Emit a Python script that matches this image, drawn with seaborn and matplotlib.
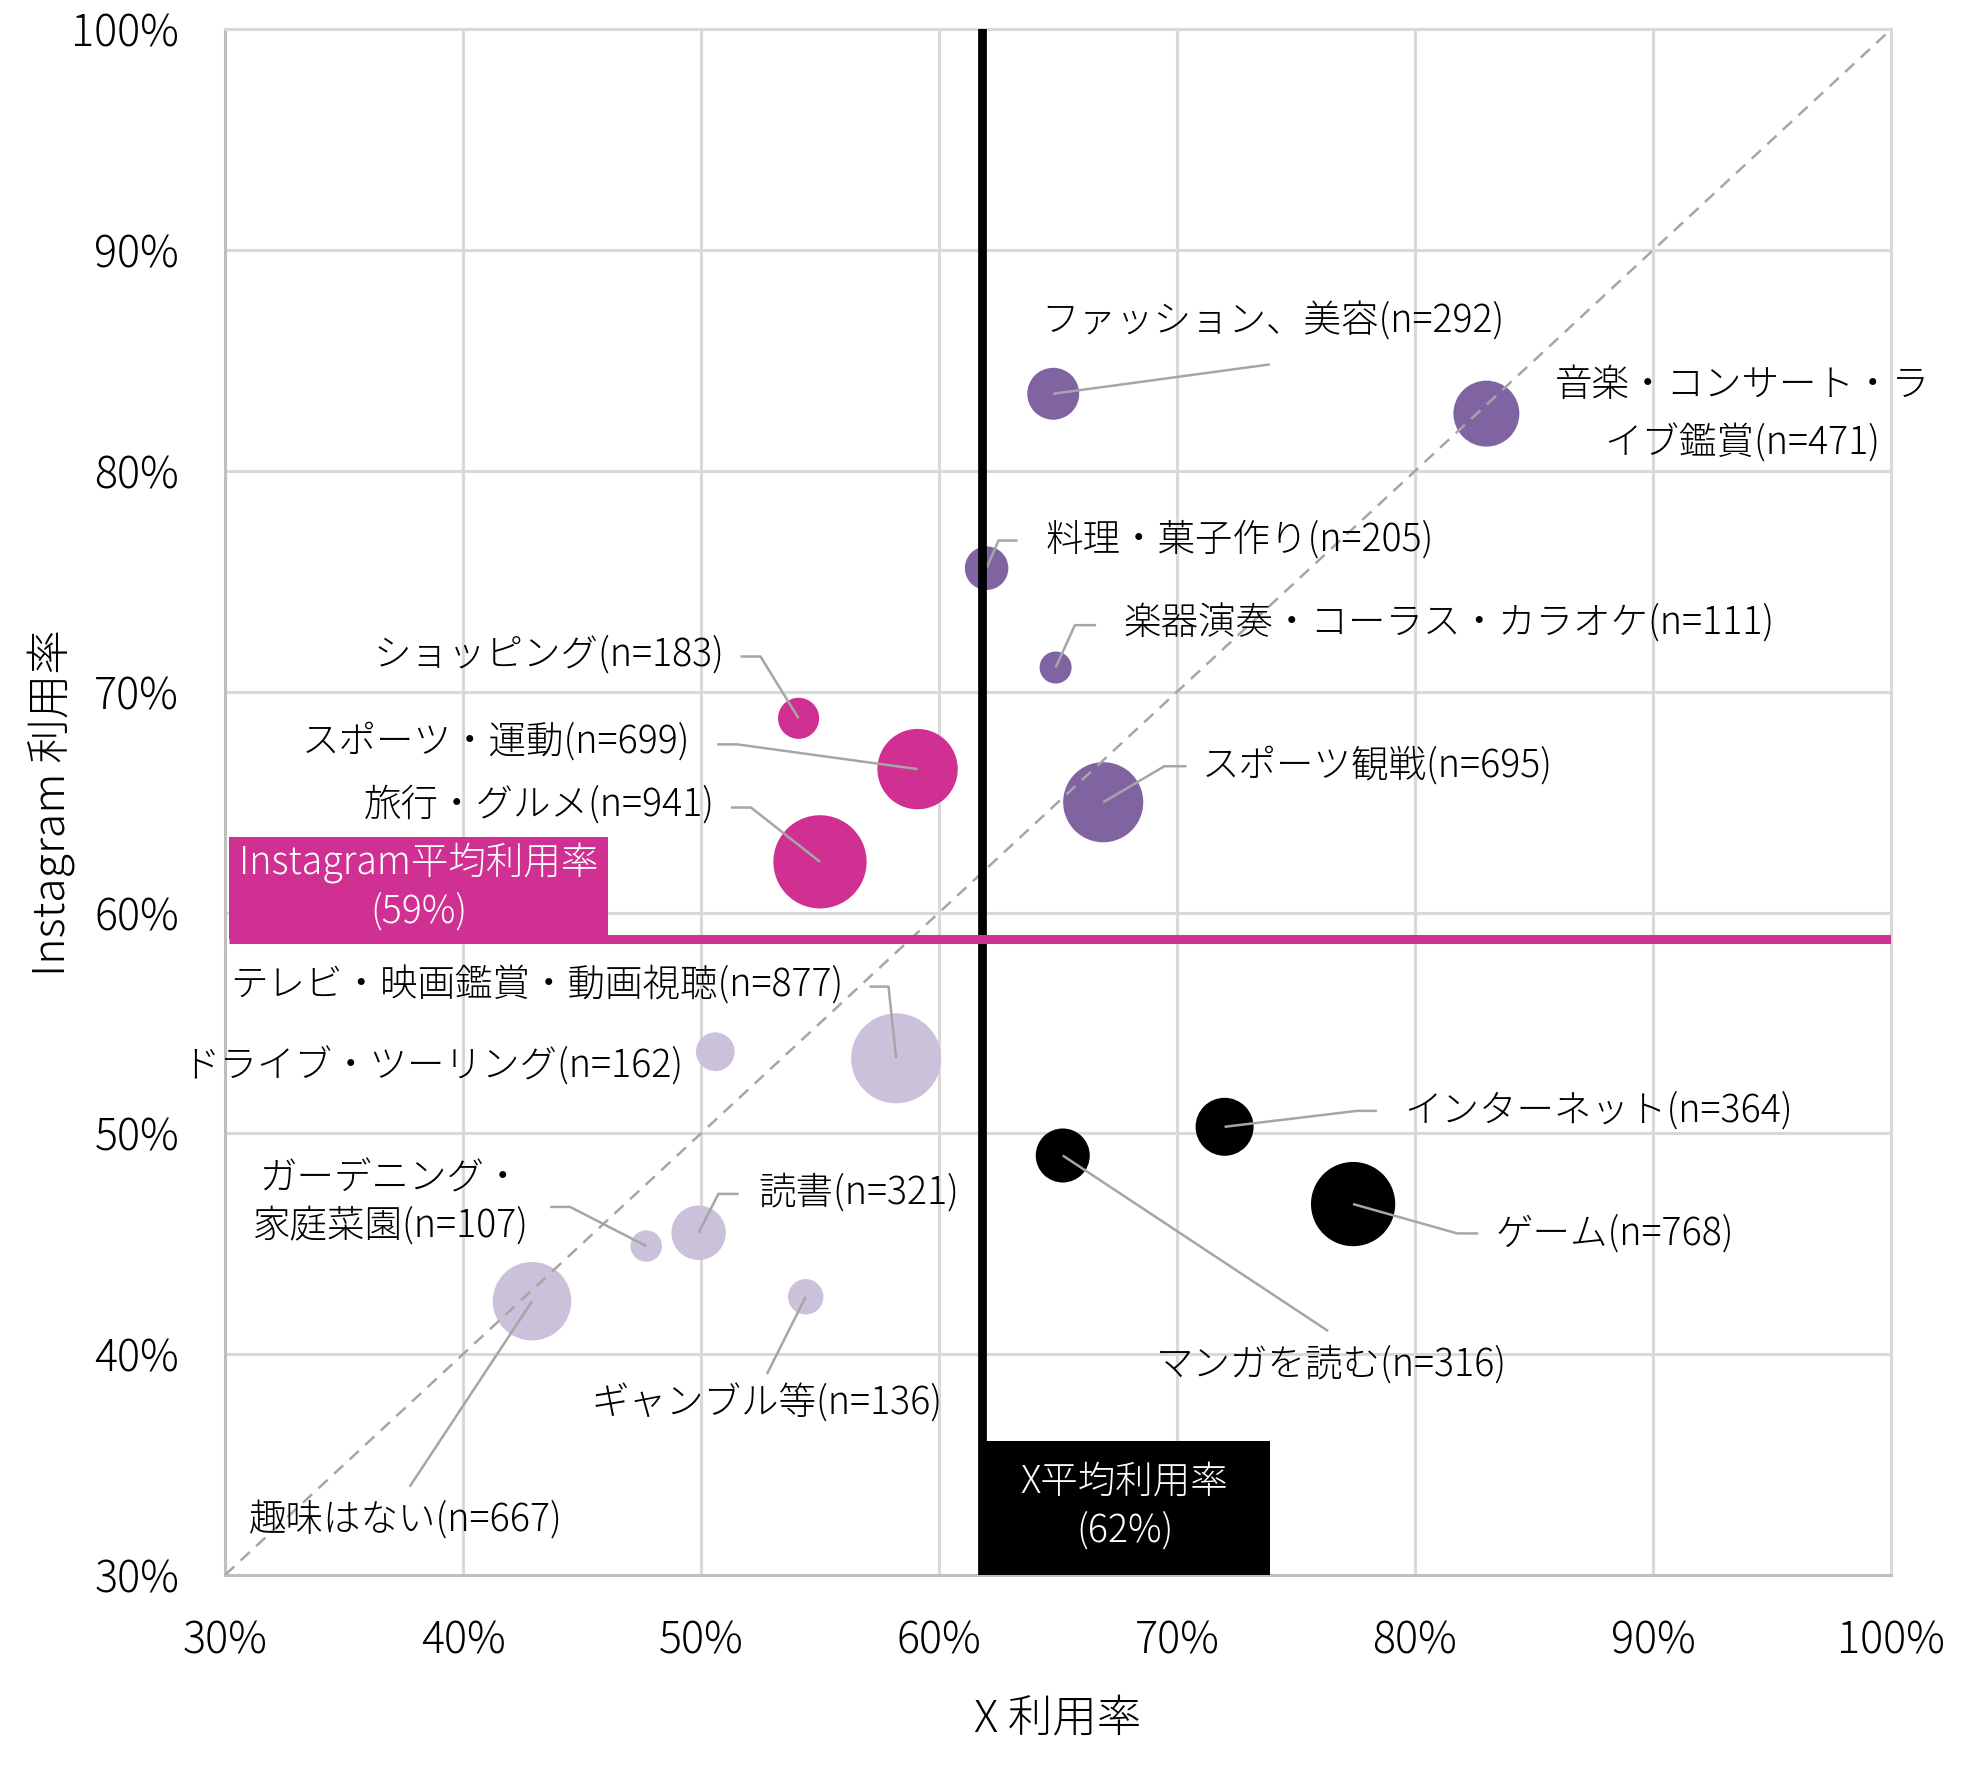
import numpy as np
import pandas as pd
import matplotlib
matplotlib.use("Agg")
import matplotlib.pyplot as plt
from matplotlib.patches import Rectangle
from matplotlib.ticker import FuncFormatter, MultipleLocator
import seaborn as sns

# ---------------- data ----------------
labels = [
    "ファッション、美容(n=292)",
    "音楽・コンサート・ラ\nイブ鑑賞(n=471)",
    "料理・菓子作り(n=205)",
    "楽器演奏・コーラス・カラオケ(n=111)",
    "スポーツ観戦(n=695)",
    "ショッピング(n=183)",
    "スポーツ・運動(n=699)",
    "旅行・グルメ(n=941)",
    "テレビ・映画鑑賞・動画視聴(n=877)",
    "ドライブ・ツーリング(n=162)",
    "ガーデニング・\n家庭菜園(n=107)",
    "読書(n=321)",
    "趣味はない(n=667)",
    "ギャンブル等(n=136)",
    "インターネット(n=364)",
    "ゲーム(n=768)",
    "マンガを読む(n=316)",
]
x_rate = [64.8, 83.0, 62.0, 64.9, 66.9, 54.1, 59.1, 55.0, 58.2, 50.6, 47.7, 49.9, 42.9, 54.4, 72.0, 77.4, 65.2]
ig_rate = [83.5, 82.6, 75.6, 71.1, 65.0, 68.8, 66.5, 62.3, 53.4, 53.7, 44.9, 45.5, 42.4, 42.6, 50.3, 46.8, 49.0]
n_resp = [292, 471, 205, 111, 695, 183, 699, 941, 877, 162, 107, 321, 667, 136, 364, 768, 316]
group = ["both_high"] * 5 + ["ig_high"] * 3 + ["both_low"] * 6 + ["x_high"] * 3

x_mean = 61.8
ig_mean = 58.8
x_mean_label = "X平均利用率\n(62%)"
ig_mean_label = "Instagram平均利用率\n(59%)"

tick_values = [30, 40, 50, 60, 70, 80, 90, 100]

# label placement: (text x, text y, ha, leader path points after bubble centre)
label_pos = [
    (64.31, 86.75, "left", [(73.9, 84.83)]),
    (93.75, 82.56, "center", []),
    (64.49, 76.90, "left", [(62.5, 76.85), (63.3, 76.85)]),
    (67.75, 73.07, "left", [(65.71, 73.02), (66.6, 73.02)]),
    (71.06, 66.67, "left", [(69.47, 66.63), (70.4, 66.63)]),
    (51.00, 71.66, "right", [(52.5, 71.6), (51.66, 71.6)]),
    (49.54, 67.75, "right", [(51.52, 67.62), (50.68, 67.62)]),
    (50.60, 64.88, "right", [(52.1, 64.76), (51.26, 64.76)]),
    (55.97, 56.70, "right", [(57.88, 56.65), (57.08, 56.65)]),
    (49.27, 53.00, "right", []),
    (36.96, 46.88, "center", [(44.5, 46.67), (43.66, 46.67)]),
    (52.40, 47.30, "left", [(50.73, 47.26), (51.58, 47.26)]),
    (31.00, 32.48, "left", [(37.76, 34.0)]),
    (52.77, 37.77, "center", [(52.77, 39.1)]),
    (79.53, 51.02, "left", [(77.55, 51.02), (78.4, 51.02)]),
    (83.37, 45.47, "left", [(81.78, 45.47), (82.66, 45.47)]),
    (76.49, 39.50, "center", [(76.35, 41.05)]),
]

df = pd.DataFrame({"label": labels, "x": x_rate, "ig": ig_rate, "n": n_resp, "group": group})

palette = {
    "both_high": "#8064A2",
    "ig_high": "#D03091",
    "both_low": "#CCC1DA",
    "x_high": "#000000",
}

# ---------------- style ----------------
sns.set_theme(style="white")
plt.rcParams["font.family"] = ["Noto Sans CJK JP", "DejaVu Sans"]
plt.rcParams["font.weight"] = "light"
plt.rcParams["axes.labelweight"] = "light"

fig = plt.figure(figsize=(19.76, 17.71), dpi=100)
ax = fig.add_axes([0.11387, 0.11067, 0.8431, 0.8727])

ax.set_xlim(30, 100)
ax.set_ylim(30, 100)

# grid
ax.xaxis.set_major_locator(MultipleLocator(10))
ax.yaxis.set_major_locator(MultipleLocator(10))
ax.grid(True, color="#D9D9D9", linewidth=2.2, zorder=0)
ax.set_axisbelow(True)
for side in ["top", "right"]:
    ax.spines[side].set_color("#D9D9D9")
    ax.spines[side].set_linewidth(2.2)
for side in ["left", "bottom"]:
    ax.spines[side].set_color("#BFBFBF")
    ax.spines[side].set_linewidth(2.2)

# bubbles: area proportional to n
k = 4.79
sns.scatterplot(
    data=df, x="x", y="ig", hue="group", palette=palette,
    size="n", sizes=(0, 1000 * k), size_norm=(0, 1000),
    linewidth=0, alpha=1, legend=False, ax=ax, zorder=2,
)

# diagonal reference
ax.plot([30, 100], [30, 100], color="#A6A6A6", linewidth=1.8,
        linestyle=(0, (5, 3.5)), zorder=3)

# leader lines
for (xi, yi), (tx, ty, ha, path) in zip(zip(x_rate, ig_rate), label_pos):
    if path:
        xs = [xi] + [p[0] for p in path]
        ys = [yi] + [p[1] for p in path]
        ax.plot(xs, ys, color="#A6A6A6", linewidth=1.8, zorder=3,
                solid_capstyle="butt")

# labels
for lab, (tx, ty, ha, path) in zip(labels, label_pos):
    ls = 1.65 if lab.startswith("音楽") else 1.25
    ax.text(tx, ty, lab, ha=ha, va="center", fontsize=27, color="#000000",
            linespacing=ls, zorder=6, multialignment="center")

# mean lines
ax.axvline(x_mean, color="#000000", linewidth=6.3, zorder=4)
ax.plot([30.17, 100], [ig_mean, ig_mean], color="#D03091", linewidth=6.5,
        zorder=4, solid_capstyle="butt")

# mean label boxes
ax.add_patch(Rectangle((30.17, ig_mean), 46.1 - 30.17, 63.42 - ig_mean,
                       facecolor="#D03091", edgecolor="none", zorder=5))
ax.text((30.17 + 46.1) / 2, (63.42 + ig_mean) / 2 + 0.05, ig_mean_label,
        ha="center", va="center", color="white", fontsize=27,
        linespacing=1.3, zorder=6)
ax.add_patch(Rectangle((x_mean - 0.1, 30), 73.9 - x_mean + 0.1, 36.07 - 30,
                       facecolor="#000000", edgecolor="none", zorder=5,
                       clip_on=False))
ax.text(67.8, 33.12, x_mean_label, ha="center", va="center", color="white",
        fontsize=27, linespacing=1.3, zorder=6)

# ticks and labels
ax.set_xticks(tick_values)
ax.set_yticks(tick_values)
pct = FuncFormatter(lambda v, p: f"{int(round(v))}%")
ax.xaxis.set_major_formatter(pct)
ax.yaxis.set_major_formatter(pct)
ax.tick_params(axis="both", length=0, labelsize=31, colors="#000000")
ax.tick_params(axis="x", pad=31)
ax.tick_params(axis="y", pad=33)

ax.set_xlabel("X 利用率", fontsize=32, labelpad=24, color="#000000",
              fontweight="light")
ax.set_ylabel("Instagram 利用率", fontsize=32, labelpad=-3, color="#000000",
              fontweight="light")

fig.savefig("out.png", dpi=100, facecolor="white")
